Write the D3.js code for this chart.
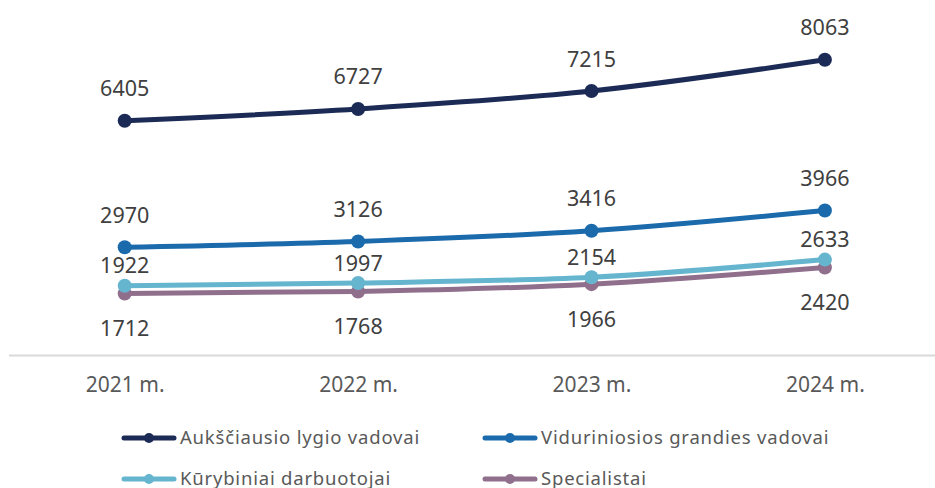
<!DOCTYPE html>
<html><head><meta charset="utf-8">
<script src="https://cdn.jsdelivr.net/npm/d3@7"></script>
<style>
html,body{margin:0;padding:0;background:#fff;}
svg{display:block;}
</style></head>
<body>
<svg id="c" width="935" height="488"></svg>
<script>
const categories = ["2021 m.", "2022 m.", "2023 m.", "2024 m."];
const seriesNames = ["Aukščiausio lygio vadovai", "Viduriniosios grandies vadovai", "Kūrybiniai darbuotojai", "Specialistai"];
const aukst = [6405, 6727, 7215, 8063];
const vidur = [2970, 3126, 3416, 3966];
const kuryb = [1922, 1997, 2154, 2633];
const spec = [1712, 1768, 1966, 2420];
const colors = ["#1c2a56", "#1b6aac", "#65b5cf", "#8f6f8c"];
const labelPos = ["above", "above", "above", "below"];

const series = [aukst, vidur, kuryb, spec].map((vals, i) => ({
  name: seriesNames[i], values: vals, color: colors[i], pos: labelPos[i]
}));

const svg = d3.select("#c");
const x = d3.scalePoint().domain(categories).range([124.7, 824.9]);
const y = d3.scaleLinear().domain([0, 9000]).range([356.5, 25.3]);

const font = "'Noto Sans', 'Open Sans', sans-serif";

// baseline
svg.append("line").attr("x1", 9).attr("x2", 935).attr("y1", 355.5).attr("y2", 355.5)
  .attr("stroke", "#d9d9d9").attr("stroke-width", 2);

// x axis labels
const xAxis = d3.axisBottom(x).tickSize(0).tickPadding(0);
const ax = svg.append("g").attr("transform", "translate(0,385)").call(xAxis);
ax.select(".domain").remove();
ax.selectAll("text").attr("font-family", font).attr("font-size", 21)
  .attr("fill", "#595959").attr("dy", "0.35em");

const line = d3.line().x((d, i) => x(categories[i])).y(d => y(d)).curve(d3.curveMonotoneX);

// draw from bottom series to top
[...series].reverse().forEach(s => {
  const g = svg.append("g");
  g.append("path").attr("d", line(s.values)).attr("fill", "none")
    .attr("stroke", s.color).attr("stroke-width", 5).attr("stroke-linecap", "round");
  g.selectAll("circle").data(s.values).join("circle")
    .attr("cx", (d, i) => x(categories[i])).attr("cy", d => y(d)).attr("r", 7)
    .attr("fill", s.color);
});

// data labels
series.forEach((s, si) => {
  svg.append("g").selectAll("text").data(s.values).join("text")
    .attr("x", (d, i) => x(categories[i]))
    .attr("y", d => {
      if (s.pos === "below") return y(d) + 35;
      if (si === 2) return y(d) - 20;
      return y(d) - 32;
    })
    .attr("dy", "0.35em")
    .attr("text-anchor", "middle")
    .attr("font-family", font).attr("font-size", 21.5).attr("fill", "#404040")
    .text(d => d);
});

// legend
const legendItems = [
  {i: 0, lx: 122, ly: 438},
  {i: 1, lx: 483, ly: 438},
  {i: 2, lx: 122, ly: 479},
  {i: 3, lx: 483, ly: 479}
];
legendItems.forEach(li => {
  const s = series[li.i];
  const g = svg.append("g");
  g.append("line").attr("x1", li.lx + 2).attr("x2", li.lx + 52).attr("y1", li.ly).attr("y2", li.ly)
    .attr("stroke", s.color).attr("stroke-width", 5).attr("stroke-linecap", "round");
  g.append("circle").attr("cx", li.lx + 27).attr("cy", li.ly).attr("r", 5).attr("fill", s.color);
  g.append("text").attr("x", li.lx + 58).attr("y", li.ly).attr("dy", "0.35em")
    .attr("font-family", font).attr("font-size", 18.5).attr("letter-spacing", 0.8)
    .attr("fill", "#595959")
    .text(s.name);
});
</script>
</body></html>
